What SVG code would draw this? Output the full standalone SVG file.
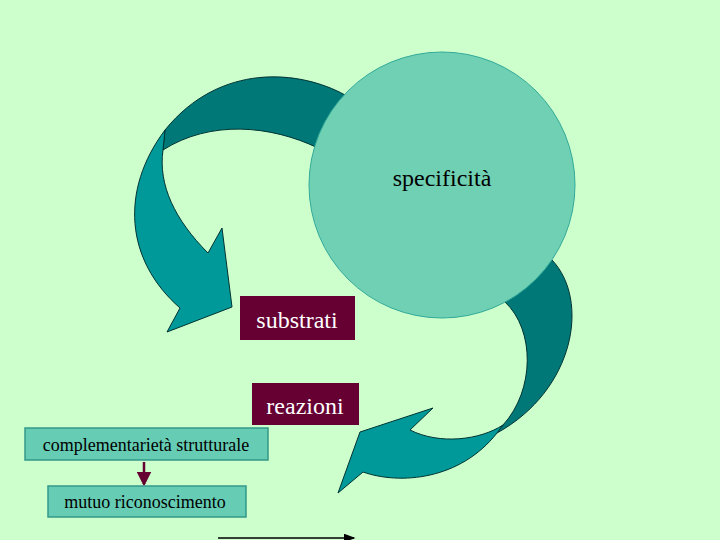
<svg xmlns="http://www.w3.org/2000/svg" width="720" height="540" viewBox="0 0 720 540">
<style>
.dk{fill:#007878;stroke:#003333;stroke-width:1}
.lt{fill:#009999;stroke:#003333;stroke-width:1}
.mb{fill:#660033}
.wt{fill:#fff;font-family:"Liberation Serif",serif;font-size:24px}
.gb{fill:#66ccb4;stroke:#339988;stroke-width:1.5}
.bt{fill:#000;font-family:"Liberation Serif",serif;font-size:18px}
</style>
<defs>
<marker id="ah" markerWidth="6" markerHeight="6" refX="5" refY="3" orient="auto" markerUnits="strokeWidth"><path d="M0,0 L6,3 L0,6 z" fill="#660033"/></marker>
<marker id="ak" markerWidth="8" markerHeight="6" refX="7" refY="3" orient="auto" markerUnits="strokeWidth"><path d="M0,0 L8,3 L0,6 z" fill="#000"/></marker>
</defs>
<rect width="720" height="540" fill="#ccffcc"/>
<g id="connectors">
<path class="dk" d="M345,95 C300,70 220,62 165,130 L163,150 C210,120 270,125 318,148 Z"/>
<path class="lt" d="M165,130 C120,190 125,260 180,308 L167,332 L232,307 L222,228 L208,253 C175,220 158,185 163,150 Z"/>
<path class="dk" d="M552,260 C590,300 575,390 497,433 L503,425 C535,390 535,330 505,302 Z"/>
<path class="lt" d="M503,425 C480,440 440,445 410,430 L433,408 L360,432 L338,493 L363,472 C400,485 460,480 497,433 Z"/>
<line x1="144" y1="462" x2="144" y2="484" stroke="#660033" stroke-width="2.5" marker-end="url(#ah)"/>
<line x1="218" y1="538" x2="354" y2="538" stroke="#000" stroke-width="1.5" marker-end="url(#ak)"/>
</g>
<g id="specificita">
<circle cx="442" cy="185" r="133" fill="#70d0b4" stroke="#33aa99" stroke-width="1"/>
<text x="442" y="186" text-anchor="middle" font-family="Liberation Serif, serif" font-size="24">specificità</text>
</g>
<g id="substrati">
<rect class="mb" x="240" y="296" width="115" height="44"/>
<text class="wt" x="297" y="328" text-anchor="middle">substrati</text>
</g>
<g id="reazioni">
<rect class="mb" x="252" y="383" width="107" height="42"/>
<text class="wt" x="305" y="414" text-anchor="middle">reazioni</text>
</g>
<g id="complementarieta">
<rect class="gb" x="25" y="428" width="243" height="32"/>
<text class="bt" x="146" y="451" text-anchor="middle">complementarietà strutturale</text>
</g>
<g id="mutuo">
<rect class="gb" x="48" y="486" width="198" height="31"/>
<text class="bt" x="145" y="508" text-anchor="middle">mutuo riconoscimento</text>
</g>
</svg>
